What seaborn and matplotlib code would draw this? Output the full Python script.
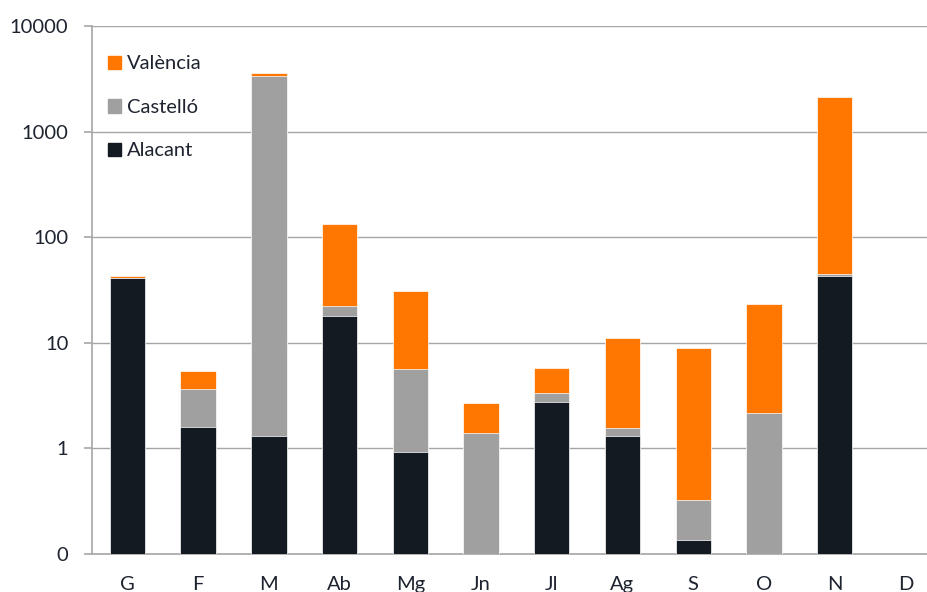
import pandas as pd
import seaborn as sns
import matplotlib.pyplot as plt
from matplotlib.patches import Patch

# Data (log scale)
mesos = ['G', 'F', 'M', 'Ab', 'Mg', 'Jn', 'Jl', 'Ag', 'S', 'O', 'N', 'D']
alacant = [41, 1.6, 1.3, 18, 0.93, 0, 2.76, 1.3, 0.136, 0, 43, 0]
castello = [0, 2.05, 3390, 4.4, 4.7, 1.39, 0.58, 0.27, 0.19, 2.16, 1.5, 0]
valencia = [2, 1.8, 180, 110, 25.4, 1.31, 2.46, 9.6, 8.64, 20.9, 2070, 0]

y_ticks = [0.1, 1, 10, 100, 1000, 10000]
y_labels = ['0', '1', '10', '100', '1000', '10000']

col_val = '#FF7700'
col_cas = '#A0A0A0'
col_ala = '#131A22'
text_col = '#1E2330'
grid_col = '#A6A6A6'

df = pd.DataFrame({'mes': mesos, 'Alacant': alacant,
                   'Castelló': castello, 'València': valencia})
df['cum_ala'] = df['Alacant']
df['cum_cas'] = df['Alacant'] + df['Castelló']
df['cum_val'] = df['cum_cas'] + df['València']

sns.set_style('white')
plt.rcParams['font.family'] = ['Lato', 'DejaVu Sans']

fig = plt.figure(figsize=(9.28, 5.92), dpi=100)
ax = fig.add_axes([92 / 928, 1 - 554 / 592, 836 / 928, 528 / 592])

# stacked bars drawn back to front
for col, c in [('cum_val', col_val), ('cum_cas', col_cas), ('cum_ala', col_ala)]:
    sns.barplot(data=df, x='mes', y=col, color=c, width=0.5, saturation=1,
                edgecolor='white', linewidth=0.5, ax=ax, zorder=3)

ax.set_yscale('log')
ax.set_ylim(0.1, 10000)
ax.set_xlim(-0.5, 11.32)
ax.yaxis.set_major_locator(plt.FixedLocator(y_ticks))
ax.yaxis.set_minor_locator(plt.NullLocator())
ax.set_yticklabels(y_labels)

# x ticks at category boundaries, labels centered on bars
ax.set_xticks([i - 0.5 for i in range(12)], minor=False)
ax.set_xticklabels([])
ax.set_xticks(range(12), minor=True)
ax.set_xticklabels(mesos, minor=True)
ax.tick_params(axis='x', which='minor', length=0, pad=16, labelsize=14.5, labelcolor=text_col)
ax.tick_params(axis='x', which='major', length=7, width=1.2, color=grid_col, direction='out')
ax.tick_params(axis='y', length=6, width=1.2, color=grid_col, pad=11, labelsize=14.5,
               labelcolor=text_col, left=True)

ax.set_xlabel('')
ax.set_ylabel('')
ax.grid(axis='y', color=grid_col, linewidth=1.0, zorder=0)
ax.set_axisbelow(True)
for s in ['top', 'right']:
    ax.spines[s].set_visible(False)
for s in ['left', 'bottom']:
    ax.spines[s].set_color(grid_col)
    ax.spines[s].set_linewidth(1.2)

handles = [Patch(color=col_val, label='València'),
           Patch(color=col_cas, label='Castelló'),
           Patch(color=col_ala, label='Alacant')]
ax.legend(handles=handles, loc='upper left', bbox_to_anchor=(0, 0.975), frameon=False,
          fontsize=14.5, labelcolor=text_col, handlelength=0.65, handleheight=0.65,
          handletextpad=0.3, labelspacing=1.32, borderpad=0.3)

fig.savefig('out.png', dpi=100)
